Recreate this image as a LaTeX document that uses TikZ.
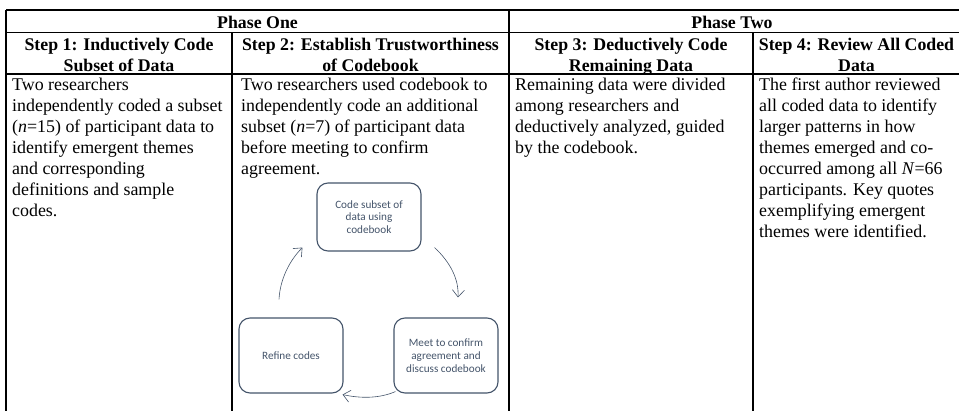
\documentclass[tikz,border=0pt]{standalone}
\usepackage{fontspec}
\setmainfont{Liberation Serif}
\newfontfamily\diafont{Carlito}
\usetikzlibrary{arrows.meta}
\definecolor{dia}{HTML}{44546A}
\tikzset{
  grid/.style={line width=1.3pt, black},
  body/.style={anchor=base west, inner sep=0pt, font=\fontsize{17.9}{20.9}\selectfont},
  head/.style={anchor=base, inner sep=0pt, font=\fontsize{17.8}{20.7}\selectfont\bfseries},
  cbox/.style={draw=dia, line width=1.1pt, rounded corners=11pt, minimum width=104pt, align=center, text=dia, font=\diafont\fontsize{11.2}{12.8}\selectfont, inner sep=2pt},
  carr/.style={draw=dia, line width=0.6pt, -{Straight Barb[length=7pt,width=12pt,line width=0.6pt]}},
}
\begin{document}
\begin{tikzpicture}[x=1pt,y=-1pt]
\useasboundingbox (0,0) rectangle (959,411);
% grid
\draw[grid] (6,10) -- (959,10);
\draw[grid] (6,32.7) -- (959,32.7);
\draw[grid] (6,74) -- (959,74);
\draw[grid] (6,10) -- (6,411);
\draw[grid] (509,10) -- (509,411);
\draw[grid] (232,32.7) -- (232,411);
\draw[grid] (753,32.7) -- (753,411);
% phase headers
\node[head] (p1) at (257.5,29) {Phase One};
\node[head] (p2) at (732,29) {Phase Two};
% step headers
\node[head] (h1) at (119,50.5) {\parbox[t]{224pt}{\centering Step 1: Inductively Code\\ Subset of Data}};
\node[head] (h2) at (370.5,50.5) {\parbox[t]{275pt}{\centering Step 2: Establish Trustworthiness\\ of Codebook}};
\node[head] (h3) at (631,50.5) {\parbox[t]{240pt}{\centering Step 3: Deductively Code\\ Remaining Data}};
\node[head] (h4) at (856.5,50.5) {\parbox[t]{200pt}{\centering Step 4: Review All Coded\\ Data}};
% bodies
\node[body] (b1) at (12,91) {\parbox[t]{224pt}{\raggedright Two researchers\\ independently coded a subset\\ (\textit{n}=15) of participant data to\\ identify emergent themes\\ and corresponding\\ definitions and sample\\ codes.}};
\node[body] (b2) at (241,91) {\parbox[t]{275pt}{\raggedright Two researchers used codebook to\\ independently code an additional\\ subset (\textit{n}=7) of participant data\\ before meeting to confirm\\ agreement.}};
\node[body] (b3) at (515,91) {\parbox[t]{240pt}{\raggedright Remaining data were divided\\ among researchers and\\ deductively analyzed, guided\\ by the codebook.}};
\node[body] (b4) at (759,91) {\parbox[t]{200pt}{\raggedright The first author reviewed\\ all coded data to identify\\ larger patterns in how\\ themes emerged and co-\\ occurred among all \textit{N}=66\\ participants. Key quotes\\ exemplifying emergent\\ themes were identified.}};
% cycle diagram
\node[cbox, minimum height=68pt] (top) at (369,217) {Code subset of\\ data using\\ codebook};
\node[cbox, minimum height=75pt] (rgt) at (446,355.5) {Meet to confirm\\ agreement and\\ discuss codebook};
\node[cbox, minimum height=75pt] (lft) at (291,355.5) {Refine codes};
\draw[carr] ([shift={(13,-4)}]top.south east) .. controls +(16,15) and +(1,-18) .. ([shift={(12,-20)}]rgt.north);
\draw[carr] ([shift={(2,-2)}]rgt.south west) .. controls +(-16,7) and +(18,4) .. ([shift={(-1,1)}]lft.south east);
\draw[carr] ([shift={(-12,-18)}]lft.north) .. controls +(1,-20) and +(-13,13) .. ([shift={(-14,-4)}]top.south west);
\end{tikzpicture}
\end{document}
